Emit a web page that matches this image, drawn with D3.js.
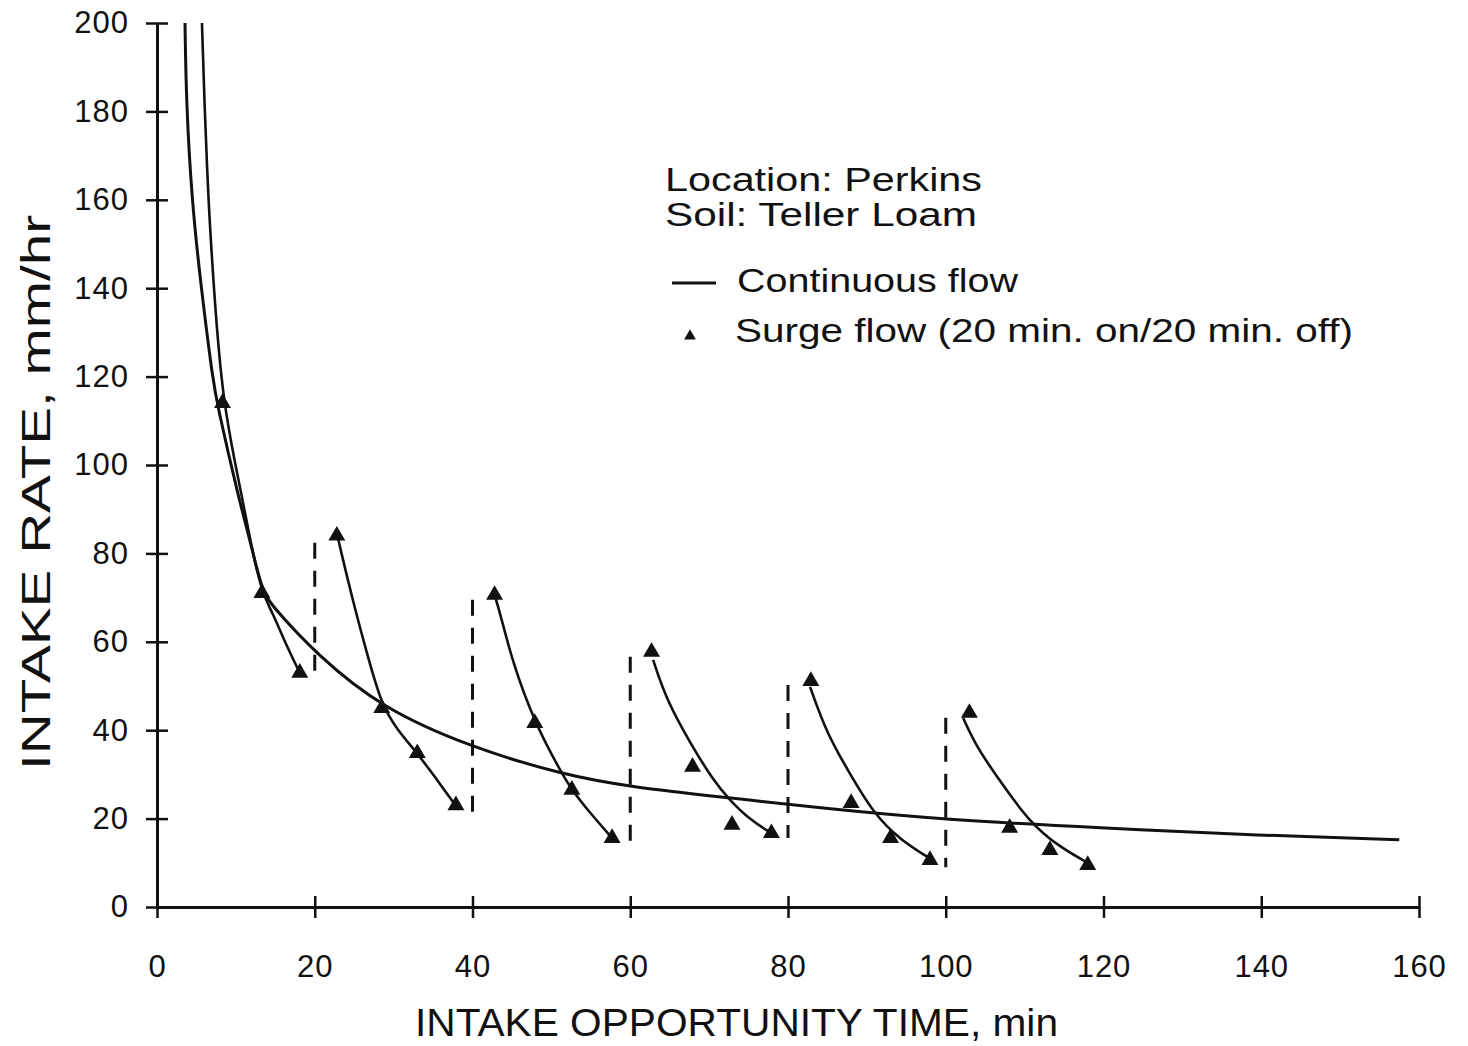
<!DOCTYPE html>
<html><head><meta charset="utf-8">
<script src="https://cdn.jsdelivr.net/npm/d3@7"></script>
<style>
html,body{margin:0;padding:0;background:#fff;}
svg{display:block;}
text{font-family:"Liberation Sans",Arial,sans-serif;fill:#111;}
</style></head>
<body>
<svg id="chart" width="1468" height="1046"></svg>
<script>
// ---- data ----
const xTicks = [0, 20, 40, 60, 80, 100, 120, 140, 160];
const yTicks = [0, 20, 40, 60, 80, 100, 120, 140, 160, 180, 200];

// continuous flow curve (min, mm/hr)
const continuousT    = [3.55, 3.7, 4.4, 5.6, 7.1, 7.6, 10.3, 11.8, 13.3, 14.7, 20.3, 28.5, 39.7, 51.5, 60.2, 72.6, 84, 100, 119.5, 140, 157.5];
const continuousRate = [200, 182.6, 160, 140, 119, 114, 92.8, 83, 71.5, 67.9, 57, 45, 36.2, 29.9, 27.1, 24.7, 22.4, 19.7, 17.9, 16.2, 15.2];

// surge flow fitted curves, one per "on" period
const surgeCurveT = [
  [5.7, 6.0, 6.5, 7.2, 8.3, 10.8, 11.8, 13.3, 14.6, 16.5, 18.1],
  [22.9, 23.2, 24.9, 26.6, 28.5, 30.5, 33.0, 35.5, 38.0],
  [42.8, 43.5, 45.1, 47.9, 51.3, 52.6, 54.9, 57.7],
  [62.9, 64.6, 67.6, 70.5, 72.6, 75.2, 77.9],
  [82.8, 84.9, 87.8, 90.8, 94.2, 98],
  [102.2, 103.9, 106.8, 110.6, 114.4, 118]
];
const surgeCurveRate = [
  [200, 182.6, 160, 140, 114, 92.8, 83, 71, 66.8, 58.8, 53],
  [84, 81.4, 68.8, 57.5, 45.5, 40, 34.8, 28.8, 22.6],
  [70.6, 66.5, 55.2, 41.6, 30.3, 26.5, 21.3, 15.6],
  [55.9, 46.8, 37.1, 28.7, 24.2, 19.7, 16.7],
  [49.8, 39.3, 30.3, 21.3, 15.2, 11],
  [42.8, 36.2, 28.7, 19.2, 13.6, 10]
];

// surge flow measured points
const surgePointT    = [8.3, 13.3, 18.1, 22.8, 28.5, 33.0, 37.9, 42.8, 47.9, 52.6, 57.7, 62.7, 67.9, 72.9, 77.9, 82.9, 88.0, 93.0, 98.0, 103.0, 108.1, 113.2, 118.0];
const surgePointRate = [114, 71, 53, 84, 45, 34.8, 23, 70.6, 41.6, 26.5, 15.6, 57.7, 31.7, 18.6, 16.7, 51.1, 23.5, 15.6, 10.6, 43.9, 17.9, 12.9, 9.5];

// dashed markers at the end of each "on" period
const offTimes  = [20, 40, 60, 80, 100];
const offTop    = [82.4, 69.5, 56.6, 50.2, 42.8];
const offBottom = [52, 21.5, 14.5, 15.6, 9];

const xTitle = "INTAKE OPPORTUNITY TIME, min";
const yTitle = "INTAKE RATE, mm/hr";
const infoLines = ["Location: Perkins", "Soil: Teller Loam"];
const legendLabels = ["Continuous flow", "Surge flow (20 min. on/20 min. off)"];

// ---- drawing ----
const svg = d3.select("#chart");
svg.append("rect").attr("width", 1468).attr("height", 1046).attr("fill", "#fff");

const x = d3.scaleLinear().domain([0, 160]).range([157, 1419]);
const y = d3.scaleLinear().domain([0, 200]).range([907, 23]);
const ink = "#111";

// axes
const xAxis = d3.axisBottom(x).tickValues(xTicks).tickSize(11).tickSizeOuter(0).tickPadding(37).tickFormat(d3.format("d"));
const yAxis = d3.axisLeft(y).tickValues(yTicks).tickSize(11).tickSizeOuter(0).tickPadding(17).tickFormat(d3.format("d"));

const gx = svg.append("g").attr("transform", `translate(0,${y(0)})`).call(xAxis);
const gy = svg.append("g").attr("transform", `translate(${x(0)},0)`).call(yAxis);

[gx, gy].forEach(g => {
  g.select(".domain").attr("stroke", ink).attr("stroke-width", 3);
  g.selectAll(".tick line").attr("stroke", ink).attr("stroke-width", 2.5);
  g.selectAll(".tick text").attr("fill", ink).attr("font-size", 31)
    .attr("font-family", "'Liberation Sans', Arial, sans-serif").attr("letter-spacing", 1);
});
gx.selectAll(".tick line").attr("y1", -11).attr("y2", 11);
gy.selectAll(".tick line").attr("x1", -11).attr("x2", 11);

// clip
svg.append("clipPath").attr("id", "plot").append("rect")
  .attr("x", x(0)).attr("y", y(200)).attr("width", x(160) - x(0)).attr("height", y(0) - y(200));

const plot = svg.append("g").attr("clip-path", "url(#plot)");

const line = d3.line().x(d => x(d[0])).y(d => y(d[1])).curve(d3.curveBasis);

// continuous curve
plot.append("path")
  .datum(continuousT.map((t, i) => [t, continuousRate[i]]))
  .attr("d", line).attr("fill", "none").attr("stroke", ink).attr("stroke-width", 3);

// surge curves
surgeCurveT.forEach((ts, k) => {
  plot.append("path")
    .datum(ts.map((t, i) => [t, surgeCurveRate[k][i]]))
    .attr("d", line).attr("fill", "none").attr("stroke", ink).attr("stroke-width", 2.6);
});

// dashed lines
plot.selectAll("line.off").data(offTimes).join("line")
  .attr("class", "off")
  .attr("x1", d => x(d)).attr("x2", d => x(d))
  .attr("y1", (d, i) => y(offTop[i])).attr("y2", (d, i) => y(offBottom[i]))
  .attr("stroke", ink).attr("stroke-width", 3).attr("stroke-dasharray", "16,12");

// surge points
const tri = d3.symbol().type(d3.symbolTriangle).size(125);
svg.append("g").selectAll("path").data(surgePointT).join("path")
  .attr("d", tri)
  .attr("transform", (d, i) => `translate(${x(d)},${y(surgePointRate[i])})`)
  .attr("fill", ink);

// axis titles
svg.append("text").attr("x", 415).attr("y", 1036).attr("font-size", 38)
  .attr("textLength", 643).attr("lengthAdjust", "spacingAndGlyphs").text(xTitle);
svg.append("text").attr("transform", "translate(50,770) rotate(-90)").attr("font-size", 40)
  .attr("textLength", 555).attr("lengthAdjust", "spacingAndGlyphs").text(yTitle);

// info text
const infoWidths = [317, 312];
infoLines.forEach((s, i) => {
  svg.append("text").attr("x", 665).attr("y", 191 + i * 35).attr("font-size", 34)
    .attr("textLength", infoWidths[i]).attr("lengthAdjust", "spacingAndGlyphs").text(s);
});

// legend
svg.append("line").attr("x1", 672).attr("x2", 716).attr("y1", 283).attr("y2", 283)
  .attr("stroke", ink).attr("stroke-width", 3);
svg.append("path").attr("d", d3.symbol().type(d3.symbolTriangle).size(60))
  .attr("transform", "translate(690,336)").attr("fill", ink);
const legendX = [737, 735];
const legendW = [281, 618];
const legendY = [292, 342];
legendLabels.forEach((s, i) => {
  svg.append("text").attr("x", legendX[i]).attr("y", legendY[i]).attr("font-size", 34)
    .attr("textLength", legendW[i]).attr("lengthAdjust", "spacingAndGlyphs").text(s);
});
</script>
</body></html>
